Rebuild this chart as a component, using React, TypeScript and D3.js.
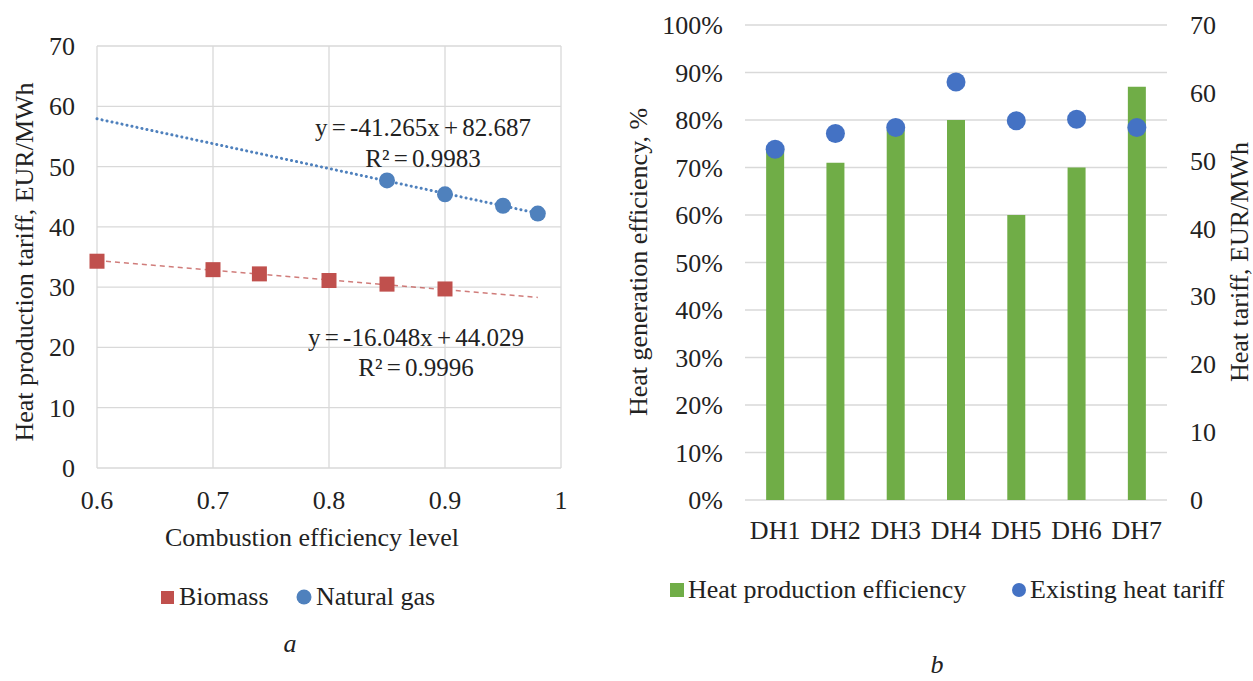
import React from "react";
import * as d3 from "d3";

// ---- Chart a data ----
const biomassX = [0.6, 0.7, 0.74, 0.8, 0.85, 0.9];
const biomassY = [34.3, 32.9, 32.2, 31.1, 30.5, 29.7];
const gasX = [0.85, 0.9, 0.95, 0.98];
const gasY = [47.7, 45.4, 43.5, 42.2];
const biomassFit = [-16.048, 44.029];
const gasFit = [-41.265, 82.687];
const trendRange = [0.6, 0.98];
const xTicksA = [0.6, 0.7, 0.8, 0.9, 1];
const yTicksA = [0, 10, 20, 30, 40, 50, 60, 70];

// ---- Chart b data ----
const categories = ["DH1", "DH2", "DH3", "DH4", "DH5", "DH6", "DH7"];
const efficiency = [0.74, 0.71, 0.78, 0.8, 0.6, 0.7, 0.87];
const tariff = [51.7, 54.0, 54.9, 61.6, 55.9, 56.1, 54.9];
const yTicksBL = [0, 0.1, 0.2, 0.3, 0.4, 0.5, 0.6, 0.7, 0.8, 0.9, 1];
const yTicksBR = [0, 10, 20, 30, 40, 50, 60, 70];

const FONT = "'Liberation Serif', 'Times New Roman', serif";
const GRID = "#d9d9d9";
const RED = "#c0504d";
const BLUE = "#4f81bd";
const GREEN = "#70ad47";
const BLUE2 = "#4472c4";

export default function App() {
  const xA = d3.scaleLinear().domain([0.6, 1]).range([97, 561]);
  const yA = d3.scaleLinear().domain([0, 70]).range([468, 46]);

  const xB = d3.scaleBand<string>().domain(categories).range([745, 1167]);
  const yBL = d3.scaleLinear().domain([0, 1]).range([500, 25]);
  const yBR = d3.scaleLinear().domain([0, 70]).range([500, 25]);
  const barW = 18;

  const trend = (fit: number[]) =>
    d3
      .line<number>()
      .x((d) => xA(d))
      .y((d) => yA(fit[0] * d + fit[1]))(trendRange) || "";

  const fs = 25;

  return (
    <svg
      width={1253}
      height={681}
      style={{ position: "absolute", left: 0, top: 0, background: "#fff" }}
      fontFamily={FONT}
    >
      <rect x={0} y={0} width={1253} height={681} fill="#fff" />
      {/* ---------- Chart a ---------- */}
      <g>
        {yTicksA.map((t) => (
          <line key={"gy" + t} x1={xA(0.6)} x2={xA(1)} y1={yA(t)} y2={yA(t)} stroke={GRID} strokeWidth={1.3} />
        ))}
        {xTicksA.map((t) => (
          <line key={"gx" + t} x1={xA(t)} x2={xA(t)} y1={yA(0)} y2={yA(70)} stroke={GRID} strokeWidth={1.3} />
        ))}
        {yTicksA.map((t) => (
          <text key={"ty" + t} x={75} y={yA(t) + 9} textAnchor="end" fontSize={26} fill="#222">
            {t}
          </text>
        ))}
        {xTicksA.map((t) => (
          <text key={"tx" + t} x={xA(t)} y={509} textAnchor="middle" fontSize={26} fill="#222">
            {String(t)}
          </text>
        ))}
        <text x={312} y={546} textAnchor="middle" fontSize={26} fill="#222">
          Combustion efficiency level
        </text>
        <text
          transform={`translate(33,262) rotate(-90)`}
          textAnchor="middle"
          fontSize={26}
          fill="#222"
        >
          Heat production tariff, EUR/MWh
        </text>

        <path d={trend(biomassFit)} fill="none" stroke={RED} strokeOpacity={0.75} strokeWidth={1.5} strokeDasharray="5,4" />
        <path
          d={trend(gasFit)}
          fill="none"
          stroke={BLUE}
          strokeWidth={3}
          strokeDasharray="0.1,5"
          strokeLinecap="round"
        />
        {biomassX.map((x, i) => (
          <rect key={"b" + i} x={xA(x) - 7.5} y={yA(biomassY[i]) - 7.5} width={15} height={15} fill={RED} />
        ))}
        {gasX.map((x, i) => (
          <circle key={"g" + i} cx={xA(x)} cy={yA(gasY[i])} r={8} fill={BLUE} />
        ))}

        <text x={423} y={136} textAnchor="middle" fontSize={fs} fill="#222" wordSpacing={-2}>
          y = -41.265x + 82.687
        </text>
        <text x={423} y={167} textAnchor="middle" fontSize={fs} fill="#222" wordSpacing={-2}>
          R² = 0.9983
        </text>
        <text x={416} y={346} textAnchor="middle" fontSize={fs} fill="#222" wordSpacing={-2}>
          y = -16.048x + 44.029
        </text>
        <text x={416} y={376} textAnchor="middle" fontSize={fs} fill="#222" wordSpacing={-2}>
          R² = 0.9996
        </text>

        {/* legend */}
        <rect x={161} y={591} width={13} height={13} fill={RED} />
        <text x={179} y={605} fontSize={26} fill="#222">
          Biomass
        </text>
        <circle cx={304} cy={597} r={7.5} fill={BLUE} />
        <text x={316} y={605} fontSize={26} fill="#222">
          Natural gas
        </text>
        <text x={290} y={652} textAnchor="middle" fontSize={26} fontStyle="italic" fill="#222">
          a
        </text>
      </g>

      {/* ---------- Chart b ---------- */}
      <g>
        {yTicksBL.map((t) => (
          <line key={"gb" + t} x1={745} x2={1167} y1={yBL(t)} y2={yBL(t)} stroke={GRID} strokeWidth={1.3} />
        ))}
        {yTicksBL.map((t) => (
          <text key={"tbl" + t} x={723} y={yBL(t) + 9} textAnchor="end" fontSize={26} fill="#222">
            {Math.round(t * 100) + "%"}
          </text>
        ))}
        {yTicksBR.map((t) => (
          <text key={"tbr" + t} x={1190} y={yBR(t) + 9} textAnchor="start" fontSize={26} fill="#222">
            {t}
          </text>
        ))}
        {categories.map((c, i) => (
          <rect
            key={"bar" + c}
            x={(xB(c) as number) + xB.bandwidth() / 2 - barW / 2}
            y={yBL(efficiency[i])}
            width={barW}
            height={yBL(0) - yBL(efficiency[i])}
            fill={GREEN}
          />
        ))}
        {categories.map((c, i) => (
          <circle
            key={"dot" + c}
            cx={(xB(c) as number) + xB.bandwidth() / 2}
            cy={yBR(tariff[i])}
            r={9.5}
            fill={BLUE2}
          />
        ))}
        {categories.map((c) => (
          <text
            key={"cat" + c}
            x={(xB(c) as number) + xB.bandwidth() / 2}
            y={539}
            textAnchor="middle"
            fontSize={26}
            fill="#222"
          >
            {c}
          </text>
        ))}
        <text transform={`translate(647,262) rotate(-90)`} textAnchor="middle" fontSize={26} fill="#222">
          Heat generation efficiency, %
        </text>
        <text transform={`translate(1248,262) rotate(-90)`} textAnchor="middle" fontSize={26} fill="#222">
          Heat tariff, EUR/MWh
        </text>

        {/* legend */}
        <rect x={670} y={583} width={14} height={14} fill={GREEN} />
        <text x={688} y={598} fontSize={26} fill="#222">
          Heat production efficiency
        </text>
        <circle cx={1019} cy={590} r={7} fill={BLUE2} />
        <text x={1030} y={598} fontSize={26} fill="#222">
          Existing heat tariff
        </text>
        <text x={937} y={673} textAnchor="middle" fontSize={26} fontStyle="italic" fill="#222">
          b
        </text>
      </g>
    </svg>
  );
}
